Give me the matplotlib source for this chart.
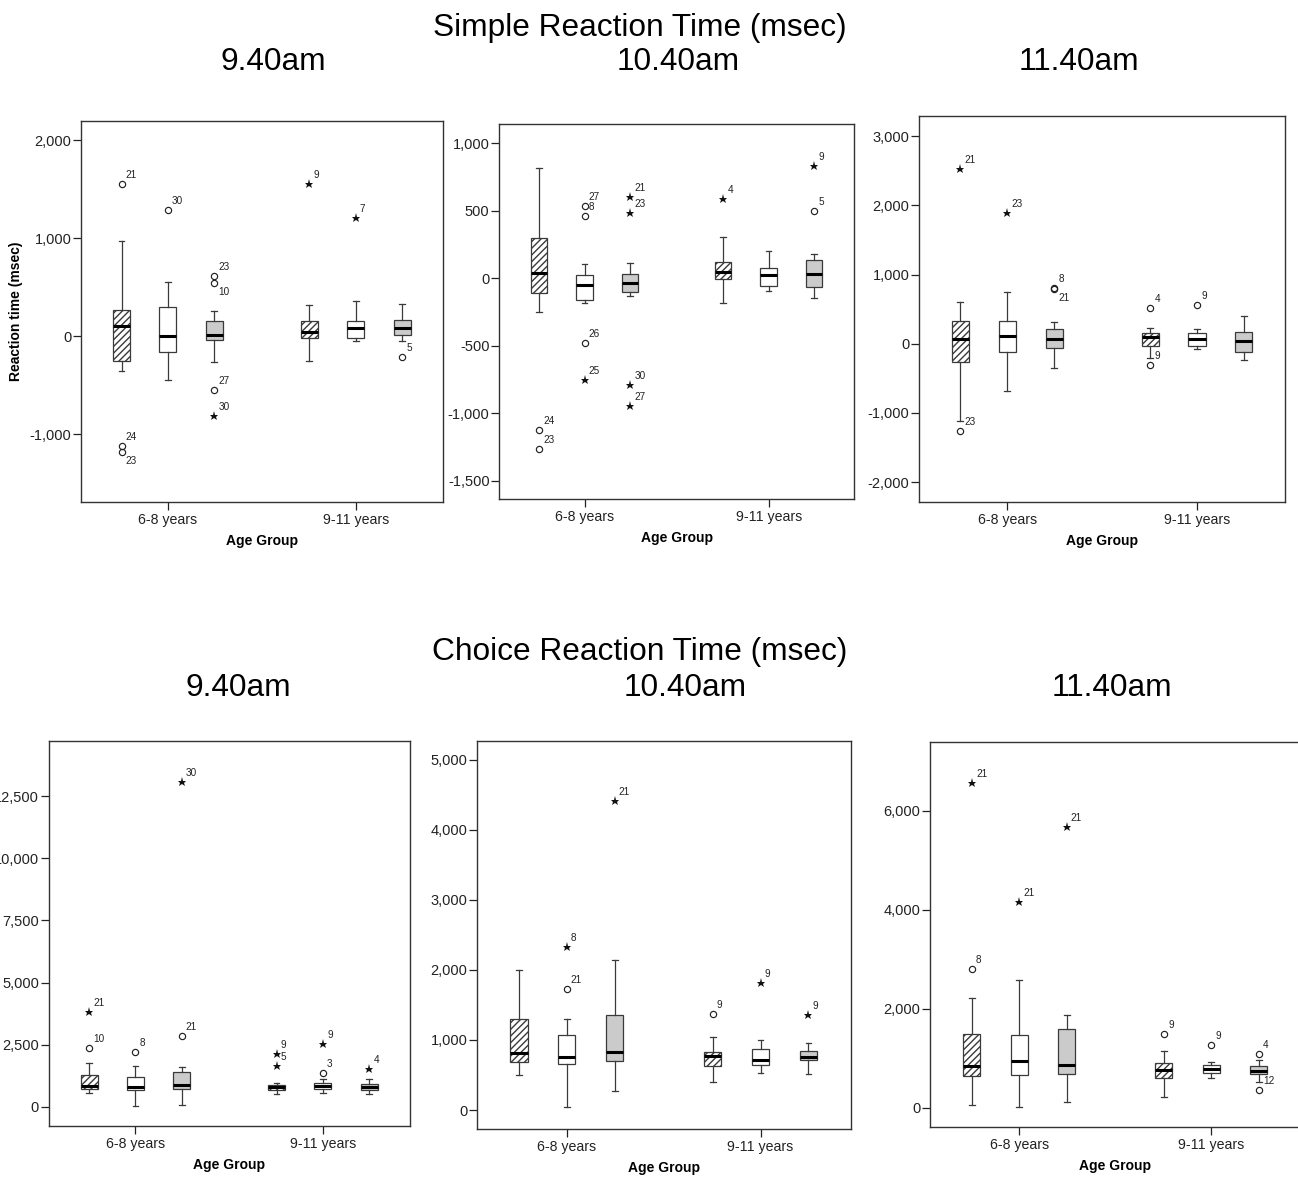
import matplotlib
matplotlib.use("Agg")
import matplotlib.pyplot as plt
from matplotlib.ticker import FuncFormatter

plt.rcParams['font.family'] = ['Liberation Sans', 'DejaVu Sans']

# ---------------- data ----------------
categories = ["6-8 years", "9-11 years"]
section_titles = ["Simple Reaction Time (msec)", "Choice Reaction Time (msec)"]
time_titles = ["9.40am", "10.40am", "11.40am"]

# each box: [lower whisker, Q1, median, Q3, upper whisker]
# order: 6-8 (hatched, white, grey), 9-11 (hatched, white, grey)
simple_940 = [[-351, -249, 105, 268, 969], [-446, -163, 0, 302, 557], [-265, -41, 16, 159, 255],
              [-255, -14, 41, 153, 319], [-48, -14, 85, 153, 363], [-45, 16, 85, 163, 326]]
simple_1040 = [[-252, -106, 37, 296, 817], [-185, -163, -52, 22, 104], [-131, -104, -32, 35, 111],
               [-183, -7, 49, 123, 304], [-96, -54, 27, 79, 202], [-143, -62, 35, 133, 178]]
simple_1140 = [[-1112, -260, 72, 332, 597], [-684, -116, 106, 323, 746], [-347, -58, 72, 217, 308],
               [-200, -34, 91, 149, 221], [-77, -29, 63, 149, 212], [-231, -116, 34, 164, 404]]
choice_940 = [[564, 698, 845, 1275, 1745], [40, 671, 805, 1181, 1651], [67, 698, 886, 1382, 1584],
              [510, 671, 778, 886, 939], [550, 698, 819, 966, 1100], [510, 671, 792, 913, 1100]]
choice_1040 = [[495, 685, 818, 1294, 2003], [48, 656, 756, 1075, 1303], [266, 699, 828, 1351, 2136],
               [395, 623, 771, 832, 1037], [523, 642, 718, 875, 999], [509, 709, 756, 842, 951]]
choice_1140 = [[54, 640, 848, 1481, 2209], [20, 660, 943, 1461, 2572], [108, 673, 862, 1596, 1879],
               [215, 593, 768, 896, 1138], [599, 700, 781, 855, 929], [525, 687, 741, 848, 970]]

# outliers: (box index, value, kind 'o' outlier / '*' extreme, case label)
simple_940_out = [(0, 1554, 'o', '21'), (0, -1119, 'o', '24'), (0, -1184, 'o', '23'), (1, 1292, 'o', '30'),
                  (2, 612, 'o', '23'), (2, 544, 'o', '10'), (2, -551, 'o', '27'), (2, -816, '*', '30'),
                  (3, 1554, '*', '9'), (4, 1204, '*', '7'), (5, -214, 'o', '5')]
simple_1040_out = [(0, -1121, 'o', '24'), (0, -1262, 'o', '23'), (1, 533, 'o', '27'), (1, 464, 'o', '8'),
                   (1, -479, 'o', '26'), (1, -753, '*', '25'), (2, 600, '*', '21'), (2, 486, '*', '23'),
                   (2, -788, '*', '30'), (2, -948, '*', '27'), (3, 590, '*', '4'), (5, 830, '*', '9'),
                   (5, 501, 'o', '5')]
simple_1140_out = [(0, 2528, '*', '21'), (0, -1257, 'o', '23'), (1, 1892, '*', '23'), (2, 804, 'o', '8'),
                   (2, 785, 'o', '21'), (3, 515, 'o', '4'), (3, -303, 'o', '9'), (4, 563, 'o', '9')]
choice_940_out = [(0, 3825, '*', '21'), (0, 2349, 'o', '10'), (1, 2187, 'o', '8'), (2, 2858, 'o', '21'),
                  (2, 13058, '*', '30'), (3, 2107, '*', '9'), (3, 1637, '*', '5'), (4, 2536, '*', '9'),
                  (4, 1369, 'o', '3'), (5, 1516, '*', '4')]
choice_1040_out = [(1, 2331, '*', '8'), (1, 1727, 'o', '21'), (2, 4410, '*', '21'), (3, 1370, 'o', '9'),
                   (4, 1817, '*', '9'), (5, 1356, '*', '9')]
choice_1140_out = [(0, 6552, '*', '21'), (0, 2795, 'o', '8'), (1, 4162, '*', '21'), (2, 5663, '*', '21'),
                   (3, 1488, 'o', '9'), (4, 1273, 'o', '9'), (5, 1084, 'o', '4'), (5, 357, 'o', '12')]

y_ticks = [
    [-1000, 0, 1000, 2000],
    [-1500, -1000, -500, 0, 500, 1000],
    [-2000, -1000, 0, 1000, 2000, 3000],
    [0, 2500, 5000, 7500, 10000, 12500],
    [0, 1000, 2000, 3000, 4000, 5000],
    [0, 2000, 4000, 6000],
]

# ---------------- layout / style ----------------
W, H = 1298, 1180
fig = plt.figure(figsize=(W / 100, H / 100), dpi=100)

panels = [
    (simple_940, simple_940_out, (81, 121, 443, 502), (-1691, 2197), {(0, '23'), (2, '10')}),
    (simple_1040, simple_1040_out, (499.3, 124.3, 854.3, 499), (-1635, 1141), set()),
    (simple_1140, simple_1140_out, (919.3, 116.3, 1285.3, 501.7), (-2283, 3286), {(2, '21')}),
    (choice_940, choice_940_out, (48.7, 740.7, 410, 1125.7), (-765, 14735), set()),
    (choice_1040, choice_1040_out, (477, 740.7, 850.7, 1129), (-271, 5271), set()),
    (choice_1140, choice_1140_out, (930.3, 742, 1300.6, 1127), (-391, 7387), set()),
]

offset = 0.247
positions = [-offset, 0, offset, 1 - offset, 1, 1 + offset]
face = ['white', 'white', '#cbcbcb'] * 2
hatches = ['/////', '', ''] * 2
edge = '#3a3a3a'

fmt = FuncFormatter(lambda v, p: f"{v:,.0f}".replace('\u2212', '-'))

for i, (stats_list, outs, (x0, y0, x1, y1), ylim, below) in enumerate(panels):
    ax = fig.add_axes([x0 / W, 1 - y1 / H, (x1 - x0) / W, (y1 - y0) / H])
    stats = [dict(whislo=s[0], q1=s[1], med=s[2], q3=s[3], whishi=s[4], fliers=[]) for s in stats_list]
    res = ax.bxp(stats, positions=positions, widths=0.09, patch_artist=True, showfliers=False,
                 capwidths=0.03, manage_ticks=False,
                 boxprops=dict(edgecolor=edge, linewidth=0.9),
                 whiskerprops=dict(color=edge, linewidth=0.9),
                 capprops=dict(color=edge, linewidth=0.9),
                 medianprops=dict(color='black', linewidth=2.2, solid_capstyle='butt'))
    for b, fc, h in zip(res['boxes'], face, hatches):
        b.set_facecolor(fc)
        b.set_hatch(h)
    for (bi, val, kind, lab) in outs:
        x = positions[bi]
        if kind == 'o':
            ax.plot([x], [val], marker='o', ms=4.5, mfc='none', mec='#222222', mew=0.85, ls='none')
        else:
            ax.plot([x], [val], marker='*', ms=6.8, color='#111111', mew=0, ls='none')
        dy = -6.5 if (bi, lab) in below else 6.5
        ax.annotate(lab, (x, val), xytext=(3, dy), textcoords='offset points',
                    ha='left', va='center', fontsize=7.2, color='#222222')
    ax.set_xlim(-0.463, 1.465)
    ax.set_ylim(*ylim)
    ax.set_xticks([0, 1])
    ax.set_xticklabels(categories)
    ax.set_yticks(y_ticks[i])
    ax.yaxis.set_major_formatter(fmt)
    ax.tick_params(axis='y', direction='out', length=6, width=0.9, pad=1, labelsize=10.5, colors='#222222')
    ax.tick_params(axis='x', direction='out', length=6, width=0.9, pad=2, labelsize=10.2, colors='#222222')
    for sp in ax.spines.values():
        sp.set_color('#333333')
        sp.set_linewidth(1.0)
    ax.set_xlabel("Age Group", fontsize=10, fontweight='bold', labelpad=5)
    if i == 0:
        ax.set_ylabel("Reaction time (msec)", fontsize=10, fontweight='bold', labelpad=5)

# titles
fig.text(640 / W, 1 - 28 / H, section_titles[0], ha='center', va='center', fontsize=22.8)
fig.text(640 / W, 1 - 652 / H, section_titles[1], ha='center', va='center', fontsize=22.8)
for x, t in zip([273, 678, 1079], time_titles):
    fig.text(x / W, 1 - 62 / H, t, ha='center', va='center', fontsize=22.8)
for x, t in zip([238, 685, 1112], time_titles):
    fig.text(x / W, 1 - 688 / H, t, ha='center', va='center', fontsize=22.8)

fig.savefig("out.png", dpi=100, facecolor='white')
